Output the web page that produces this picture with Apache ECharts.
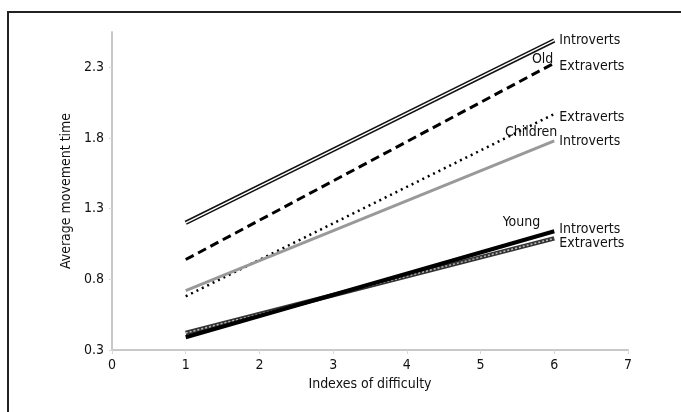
<!DOCTYPE html>
<html>
<head>
<meta charset="utf-8">
<script src="https://cdn.jsdelivr.net/npm/echarts@6/dist/echarts.min.js"></script>
<style>
  html, body { margin: 0; padding: 0; background: #fff; }
  #main { width: 681px; height: 412px; }
</style>
</head>
<body>
<div id="main"></div>
<script>
// index of difficulty (x) and fitted movement times at both ends
const difficulty = [1, 6];
const oldIntroverts = [1.20, 2.49];
const oldExtraverts = [0.94, 2.33];
const childExtraverts = [0.68, 1.97];
const childIntroverts = [0.72, 1.78];
const youngIntroverts = [0.39, 1.14];
const youngExtraverts = [0.42, 1.09];
const yTicks = [0.3, 0.8, 1.3, 1.8, 2.3];

const FONT = '"Liberation Sans Narrow", "DejaVu Sans Condensed", sans-serif';

const pts = arr => difficulty.map((x, i) => [x, arr[i]]);
const last = arr => [difficulty[difficulty.length - 1], arr[arr.length - 1]];

const endLbl = (text, dy) => ({
  show: true, formatter: text, distance: 5, offset: [0, dy],
  color: '#111', fontFamily: FONT, fontSize: 14
});

// group names ("Old", "Children", "Young") hung off a series end point
const groupMark = (arr, text, off) => ({
  symbol: 'circle', symbolSize: 0, silent: true,
  data: [{
    coord: last(arr),
    label: {
      show: true, formatter: text, position: 'left', distance: 0, offset: off,
      color: '#111', fontFamily: FONT, fontSize: 14
    }
  }]
});

const line = (arr, style, extra) => Object.assign({
  type: 'line',
  data: pts(arr),
  showSymbol: false,
  lineStyle: style,
  z: 3
}, extra || {});

const chart = echarts.init(document.getElementById('main'));
chart.setOption({
  animation: false,
  backgroundColor: '#fff',
  grid: { left: 112, right: 53, top: 32, bottom: 62 },
  xAxis: {
    type: 'value', min: 0, max: 7, interval: 1,
    name: 'Indexes of difficulty', nameLocation: 'middle', nameGap: 26,
    nameTextStyle: { color: '#111', fontFamily: FONT, fontSize: 14 },
    axisLine: { show: true, lineStyle: { color: '#c8c8c8', width: 2 } },
    axisTick: { show: true, length: 4, lineStyle: { color: '#d8d8d8' } },
    axisLabel: { color: '#111', fontFamily: FONT, fontSize: 14, margin: 8 },
    splitLine: { show: false }
  },
  yAxis: {
    type: 'value', min: 0.3, max: 2.55,
    name: 'Average movement time', nameLocation: 'middle', nameGap: 36,
    nameTextStyle: { color: '#111', fontFamily: FONT, fontSize: 14 },
    axisLine: { show: true, lineStyle: { color: '#c8c8c8', width: 2 } },
    axisTick: { show: true, length: 3, customValues: yTicks, lineStyle: { color: '#d8d8d8' } },
    axisLabel: { color: '#111', fontFamily: FONT, fontSize: 14, margin: 8, customValues: yTicks,
      formatter: v => v.toFixed(1) },
    splitLine: { show: false }
  },
  graphic: [{
    type: 'polyline', silent: true,
    shape: { points: [[681, 12], [8, 12], [8, 412]] },
    style: { stroke: '#222', lineWidth: 2, fill: null }
  }],
  series: [
    line(oldIntroverts, { color: '#111', width: 4.5 }, { endLabel: endLbl('Introverts', 0) }),
    line(oldIntroverts, { color: '#fff', width: 1.4 }, { z: 4 }),
    line(oldExtraverts, { color: '#000', width: 3, type: [9, 5] },
      { endLabel: endLbl('Extraverts', 3), markPoint: groupMark(oldExtraverts, 'Old', [-1, -4]) }),
    line(childExtraverts, { color: '#000', width: 2.5, type: [2, 4] }, { endLabel: endLbl('Extraverts', 3) }),
    line(childIntroverts, { color: '#999', width: 3 },
      { endLabel: endLbl('Introverts', 1), markPoint: groupMark(childIntroverts, 'Children', [3, -8]) }),
    line(youngExtraverts, { color: '#333', width: 4.5 }, { endLabel: endLbl('Extraverts', 5) }),
    line(youngExtraverts, { color: '#bbb', width: 1.5, type: [2, 2] }, { z: 4 }),
    line(youngIntroverts, { color: '#000', width: 4 },
      { endLabel: endLbl('Introverts', -2), markPoint: groupMark(youngIntroverts, 'Young', [-14, -9]), z: 5 })
  ]
});
</script>
</body>
</html>
